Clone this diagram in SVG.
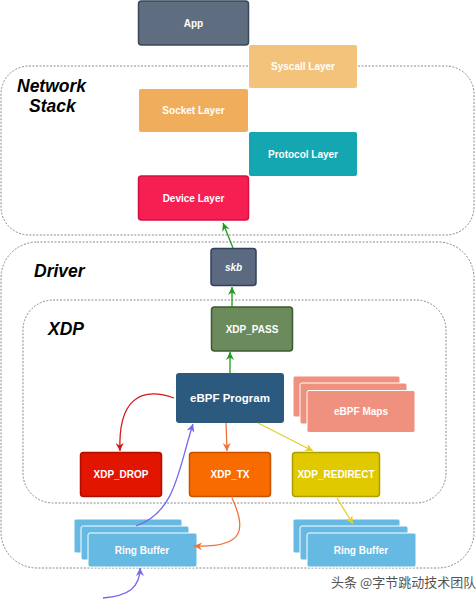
<svg xmlns="http://www.w3.org/2000/svg" width="476" height="600" viewBox="0 0 476 600">
<style>
.c{fill:none;stroke:#8a8a8a;stroke-width:1;stroke-dasharray:2,1.5}
.t{font-family:"Liberation Sans",Arial,sans-serif;font-weight:bold;fill:#fff;text-anchor:middle}
.h{font-family:"Liberation Sans",Arial,sans-serif;font-weight:bold;font-style:italic;fill:#000;font-size:17.5px}
.w{stroke:#fff;stroke-width:1}
.e{fill:none;stroke-width:1.3}
</style>
<defs>
<marker id="ag" markerWidth="10" markerHeight="10" refX="8" refY="5" orient="auto" markerUnits="userSpaceOnUse"><path d="M0,1 L8,5 L0,9 L2.5,5 Z" fill="#1f9a1f"/></marker>
<marker id="ar" markerWidth="10" markerHeight="10" refX="8" refY="5" orient="auto" markerUnits="userSpaceOnUse"><path d="M0,1 L8,5 L0,9 L2.5,5 Z" fill="#d41818"/></marker>
<marker id="ao" markerWidth="10" markerHeight="10" refX="8" refY="5" orient="auto" markerUnits="userSpaceOnUse"><path d="M0,1 L8,5 L0,9 L2.5,5 Z" fill="#f07236"/></marker>
<marker id="ay" markerWidth="10" markerHeight="10" refX="8" refY="5" orient="auto" markerUnits="userSpaceOnUse"><path d="M0,1 L8,5 L0,9 L2.5,5 Z" fill="#e0d030"/></marker>
<marker id="ap" markerWidth="10" markerHeight="10" refX="8" refY="5" orient="auto" markerUnits="userSpaceOnUse"><path d="M0,1 L8,5 L0,9 L2.5,5 Z" fill="#7366f0"/></marker>
</defs>
<rect width="476" height="600" fill="#fff"/>
<g id="containers">
<rect class="c" x="1" y="66" width="473" height="169" rx="28"/>
<rect class="c" x="1" y="242" width="473" height="326" rx="36"/>
<rect class="c" x="23" y="300" width="423" height="203" rx="30"/>
<text class="h" x="17" y="92">Network</text>
<text class="h" x="29" y="112">Stack</text>
<text class="h" x="34" y="277">Driver</text>
<text class="h" x="48" y="335">XDP</text>
</g>
<g id="app"><rect x="138.5" y="1" width="110" height="44" rx="3" fill="#5e6e80" stroke="#3b4758" stroke-width="1.5"/><text class="t" x="193.5" y="26.5" font-size="10">App</text></g>
<g id="syscall"><rect x="249" y="45" width="108" height="43" rx="2" fill="#f3c27b"/><text class="t" x="303" y="70" font-size="10">Syscall Layer</text></g>
<g id="socket"><rect x="139" y="89" width="109" height="43" rx="2" fill="#f0ae5c"/><text class="t" x="193.5" y="114" font-size="10">Socket Layer</text></g>
<g id="protocol"><rect x="249" y="132" width="108" height="44" rx="2" fill="#14a6b1"/><text class="t" x="303" y="158" font-size="10">Protocol Layer</text></g>
<g id="device"><rect x="138.5" y="176" width="110" height="44" rx="3" fill="#f71e52" stroke="#d31041" stroke-width="1.5"/><text class="t" x="193.5" y="201.5" font-size="10">Device Layer</text></g>
<g id="skb"><rect x="211" y="248.5" width="45" height="37" rx="3" fill="#5b6a81" stroke="#33405a" stroke-width="1.5"/><text class="t" x="233.5" y="271" font-size="10" font-style="italic">skb</text></g>
<g id="xdp_pass"><rect x="211.5" y="307" width="81" height="44" rx="3" fill="#6c8b5d" stroke="#3c5a2f" stroke-width="1.5"/><text class="t" x="252" y="333" font-size="10">XDP_PASS</text></g>
<g id="ebpf_program"><rect x="176" y="373" width="108" height="50" rx="3" fill="#2c5a7f"/><text class="t" x="230" y="402" font-size="11.5">eBPF Program</text></g>
<g id="ebpf_maps">
<rect class="w" x="293" y="376" width="107" height="41" rx="2" fill="#f0907f"/>
<rect class="w" x="300" y="383" width="107" height="41" rx="2" fill="#f0907f"/>
<rect class="w" x="307" y="390.5" width="108" height="42" rx="2" fill="#f0907f"/>
<text class="t" x="361" y="415" font-size="10">eBPF Maps</text>
</g>
<g id="xdp_drop"><rect x="80.5" y="452.5" width="81" height="44" rx="3" fill="#e21500" stroke="#b00e00" stroke-width="1.5"/><text class="t" x="121" y="478" font-size="10">XDP_DROP</text></g>
<g id="xdp_tx"><rect x="189.5" y="452.5" width="81" height="44" rx="3" fill="#f86b00" stroke="#c45200" stroke-width="1.5"/><text class="t" x="230" y="478" font-size="10">XDP_TX</text></g>
<g id="xdp_redirect"><rect x="292.5" y="452.5" width="87" height="44" rx="3" fill="#e1c900" stroke="#b09e00" stroke-width="1.5"/><text class="t" x="336" y="478" font-size="10">XDP_REDIRECT</text></g>
<g id="ring_buffer_left">
<rect class="w" x="74" y="519" width="108" height="34" rx="2" fill="#65b9e2"/>
<rect class="w" x="81" y="526" width="108" height="34" rx="2" fill="#65b9e2"/>
<rect class="w" x="88" y="533" width="109" height="34" rx="2" fill="#65b9e2"/>
<text class="t" x="142" y="553.5" font-size="10">Ring Buffer</text>
</g>
<g id="ring_buffer_right">
<rect class="w" x="293" y="519" width="107" height="34" rx="2" fill="#65b9e2"/>
<rect class="w" x="300" y="526" width="108" height="34" rx="2" fill="#65b9e2"/>
<rect class="w" x="307" y="533" width="109" height="34" rx="2" fill="#65b9e2"/>
<text class="t" x="361" y="553.5" font-size="10">Ring Buffer</text>
</g>
<g id="connectors">
<path class="e" d="M233,248 L223,223" stroke="#1f9a1f" marker-end="url(#ag)"/>
<path class="e" d="M232,307 L232,287" stroke="#1f9a1f" marker-end="url(#ag)"/>
<path class="e" d="M230,373 L230,352" stroke="#1f9a1f" marker-end="url(#ag)"/>
<path class="e" d="M174,398 C140,386 118,400 120,451" stroke="#d41818" marker-end="url(#ar)"/>
<path class="e" d="M226,423 L227,451" stroke="#f07236" marker-end="url(#ao)"/>
<path class="e" d="M258,423 L313,451" stroke="#e0d030" marker-end="url(#ay)"/>
<path class="e" d="M136,526 C176,512 178,470 193,424" stroke="#7366f0" marker-end="url(#ap)"/>
<path class="e" d="M103,598 C128,596 140,588 140,568" stroke="#7366f0" marker-end="url(#ap)"/>
<path class="e" d="M232,498 C246,528 246,548 194,546" stroke="#f07236" marker-end="url(#ao)"/>
<path class="e" d="M337,498 L353,524" stroke="#e0d030" marker-end="url(#ay)"/>
</g>
<text x="331" y="587" font-family="'Noto Sans CJK SC',sans-serif" font-size="13" fill="#555">头条 @字节跳动技术团队</text>
</svg>
